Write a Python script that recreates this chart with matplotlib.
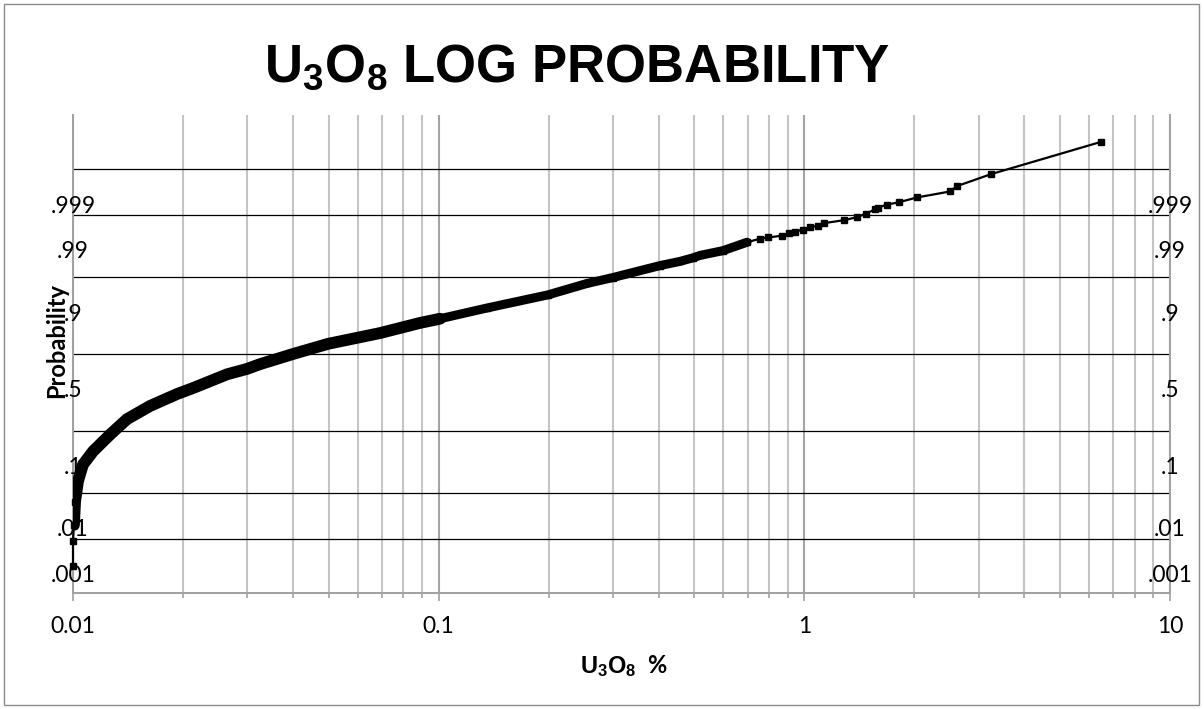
import numpy as np
import matplotlib.pyplot as plt
from matplotlib.patches import Rectangle
from matplotlib.ticker import LogLocator, NullFormatter

plt.rcParams['font.family'] = ['Lato', 'DejaVu Sans']
plt.rcParams['mathtext.fontset'] = 'custom'
plt.rcParams['mathtext.rm'] = 'Liberation Sans'
plt.rcParams['mathtext.bf'] = 'Liberation Sans:bold'

# grade (U3O8 %) vs normal score of cumulative probability
grade_pct = [0.0100, 0.0100, 0.01006, 0.01013, 0.01032, 0.01050, 0.01065, 0.01134,
             0.01262, 0.01405, 0.01624, 0.01925, 0.02129, 0.02638, 0.02990, 0.03246,
             0.03996, 0.04981, 0.06910, 0.08889, 0.1008, 0.1356, 0.1991, 0.2544,
             0.2997, 0.4030, 0.4570, 0.4961, 0.5184, 0.5992, 0.6970, 0.7563,
             0.7954, 0.8688, 0.9079, 0.9429, 0.9916, 1.036, 1.090, 1.132,
             1.284, 1.393, 1.474, 1.561, 1.590, 1.683, 1.815, 2.033,
             2.502, 2.615, 3.240, 6.475]
z_score = [-3.55, -3.13, -2.86, -2.47, -2.13, -1.97, -1.85, -1.63,
           -1.35, -1.09, -0.87, -0.67, -0.57, -0.34, -0.25, -0.17,
           0.00, 0.17, 0.35, 0.52, 0.59, 0.77, 0.99, 1.18,
           1.28, 1.48, 1.55, 1.61, 1.65, 1.73, 1.87, 1.93,
           1.95, 1.98, 2.02, 2.05, 2.08, 2.12, 2.15, 2.19,
           2.24, 2.29, 2.35, 2.42, 2.45, 2.50, 2.54, 2.62,
           2.72, 2.81, 3.01, 3.55]

# probability reference lines (normal scores)
prob_labels = ['.999', '.99', '.9', '.5', '.1', '.01', '.001']
prob_z = [3.090, 2.326, 1.282, 0.0, -1.282, -2.326, -3.090]

x_ticks = [0.01, 0.1, 1, 10]
x_ticklabels = ['0.01', '0.1', '1', '10']

fig = plt.figure(figsize=(12.04, 7.09), dpi=100)
ax = fig.add_axes([73/1204, 1 - 593/709, (1170 - 73)/1204, (593 - 115)/709])

ax.set_xscale('log')
ax.set_xlim(0.01, 10)
ax.set_ylim(-4, 4)
ax.set_yticks([])
ax.set_xticks(x_ticks)
ax.set_xticklabels(x_ticklabels, fontsize=16.5)
ax.xaxis.set_minor_locator(LogLocator(base=10, subs=np.arange(2, 10)))
ax.xaxis.set_minor_formatter(NullFormatter())
ax.tick_params(axis='x', which='major', length=5.5, width=1.2, color='#a0a0a0', pad=11)
ax.tick_params(axis='x', which='minor', length=3.6, width=1.2, color='#a0a0a0')

ax.grid(True, which='minor', axis='x', color='#c4c4c4', lw=1.5)
ax.grid(True, which='major', axis='x', color='#a4a4a4', lw=1.5)
ax.set_axisbelow(True)

ax.spines['top'].set_visible(False)
for s in ['left', 'right', 'bottom']:
    ax.spines[s].set_color('#a0a0a0')
    ax.spines[s].set_linewidth(1.4)

for z in prob_z:
    ax.axhline(z, color='black', lw=0.9, zorder=1.5)

for lab, z in zip(prob_labels, prob_z):
    for xpos in (0.01, 10):
        ax.annotate(lab, (xpos, z), xytext=(0, -26.6), textcoords='offset points',
                    ha='center', va='center', fontsize=16.5, annotation_clip=False,
                    zorder=4)

# dense part of the curve shows as a thick band of overlapping markers
ax.plot(grade_pct[2:21], z_score[2:21], color='black', lw=8.5, zorder=3,
        solid_capstyle='round', solid_joinstyle='round')
ax.plot(grade_pct[20:31], z_score[20:31], color='black', lw=6.5, zorder=3,
        solid_capstyle='round', solid_joinstyle='round')
ax.plot(grade_pct, z_score, color='black', lw=1.6, marker='s', markersize=5,
        zorder=3, clip_on=False)

fig.text(577/1204, 1 - 82/709, r'$\mathbf{U_3O_8}$ LOG PROBABILITY', ha='center',
         va='baseline', fontsize=38, fontweight='bold', family='Liberation Sans')
fig.text(57/1204, 1 - 341/709, 'Probability', rotation=90, ha='center', va='center',
         fontsize=17, fontweight='bold')
fig.text(624/1204, 1 - 666/709, r'$\mathbf{U_3O_8}$  %', ha='center', va='center',
         fontsize=17, fontweight='bold')

fig.add_artist(Rectangle((4/1204, 4/709), 1195/1204, 701/709, transform=fig.transFigure,
                         fill=False, edgecolor='#8c8c8c', lw=1))

fig.savefig('out.png', dpi=100)
plt.close(fig)
